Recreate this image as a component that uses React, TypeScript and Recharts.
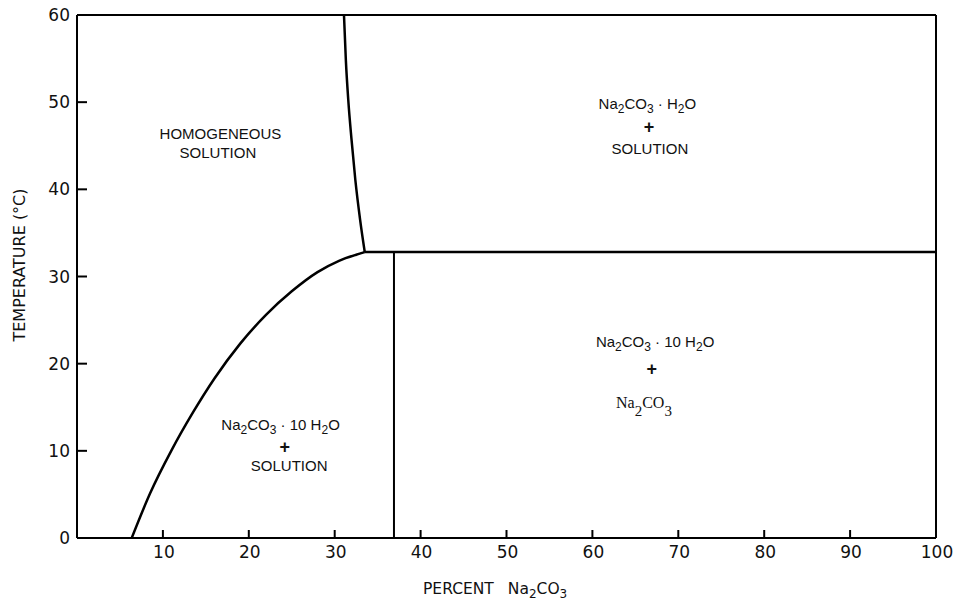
import React from 'react';
import { ComposedChart, Line, Scatter, XAxis, YAxis, ReferenceLine, Label } from 'recharts';

// Axis ticks
const xTicks = [10, 20, 30, 40, 50, 60, 70, 80, 90, 100];
const yTicks = [0, 10, 20, 30, 40, 50, 60];

// Decahydrate solubility curve (percent Na2CO3, temperature °C)
const liquidusX = [6.37, 8.5, 11.0, 13.5, 16.0, 19.0, 22.0, 25.0, 28.0, 30.5, 32.5, 33.5];
const liquidusT = [0, 5.1, 10.05, 14.4, 18.3, 22.3, 25.6, 28.3, 30.5, 31.8, 32.5, 32.8];

// Monohydrate solubility curve
const monoX = [31.08, 31.3, 31.58, 31.96, 32.4, 32.96, 33.5];
const monoT = [60, 54.8, 50.25, 45.7, 41.1, 36.5, 32.8];

// Transition line (horizontal)
const transX = [33.5, 100];
const transT = [32.8, 32.8];

// Decahydrate composition line (vertical)
const decaX = [36.9, 36.9];
const decaT = [0, 32.8];

// Region labels (one entry per text line)
const labelX = [16.7, 16.4, 66.4, 66.6, 66.7, 67.3, 66.9, 66.0, 23.7, 24.2, 24.7];
const labelT = [45.8, 43.6, 49.2, 46.5, 44.1, 21.9, 18.7, 14.9, 12.4, 9.75, 7.7];
const labelText = [
  'HOMOGENEOUS',
  'SOLUTION',
  'Na_2CO_3 · H_2O',
  '+',
  'SOLUTION',
  'Na_2CO_3 · 10 H_2O',
  '+',
  'Na_2CO_3',
  'Na_2CO_3 · 10 H_2O',
  '+',
  'SOLUTION',
];
const labelSerif = [false, false, false, false, false, false, false, true, false, false, false];

const zip = (xs: number[], ts: number[]) => xs.map((x, i) => ({ x, t: ts[i] }));

const liquidusData = zip(liquidusX, liquidusT);
const monoData = zip(monoX, monoT);
const transData = zip(transX, transT);
const decaData = zip(decaX, decaT);
const labelData = labelX.map((x, i) => ({ x, t: labelT[i], text: labelText[i], serif: labelSerif[i] }));

const SANS = '"DejaVu Sans", "Liberation Sans", sans-serif';
const LSANS = '"Liberation Sans", Arial, sans-serif';
const SERIF = '"Liberation Serif", "Times New Roman", serif';

function rich(text: string, subSize: number, shift: number) {
  const parts = text.split(/_(\d)/);
  const out: React.ReactNode[] = [];
  let inSub = false;
  parts.forEach((p, i) => {
    const isSub = i % 2 === 1;
    if (p === '') return;
    if (isSub) {
      out.push(
        <tspan key={i} dy={inSub ? 0 : shift} fontSize={subSize}>
          {p}
        </tspan>
      );
      inSub = true;
    } else {
      out.push(
        <tspan key={i} dy={inSub ? -shift : 0}>
          {p}
        </tspan>
      );
      inSub = false;
    }
  });
  return out;
}

const LabelShape = (props: any) => {
  const { cx, cy, payload } = props;
  if (cx == null || cy == null) return null;
  if (payload.serif) {
    return (
      <text x={cx} y={cy} textAnchor="middle" fontFamily={SERIF} fontSize={16} fill="#111">
        {rich(payload.text, 15, 8)}
      </text>
    );
  }
  if (payload.text === '+') {
    return (
      <text x={cx} y={cy} textAnchor="middle" fontFamily={LSANS} fontSize={18} fontWeight="bold" fill="#111">
        +
      </text>
    );
  }
  return (
    <text x={cx} y={cy} textAnchor="middle" fontFamily={LSANS} fontSize={15} fill="#111" style={{ whiteSpace: 'pre' }}>
      {rich(payload.text, 12, 4)}
    </text>
  );
};

const XTick = (props: any) => {
  const { x, y, payload } = props;
  return (
    <g>
      <line x1={x} y1={y} x2={x} y2={y - 8} stroke="#000" strokeWidth={2} />
      <text x={x + 1} y={y + 20} textAnchor="middle" fontFamily={SANS} fontSize={17} fill="#111">
        {payload.value}
      </text>
    </g>
  );
};

const YTick = (props: any) => {
  const { x, y, payload } = props;
  return (
    <g>
      {payload.value !== 0 && payload.value !== 60 && (
        <line x1={x} y1={y} x2={x + 10} y2={y} stroke="#000" strokeWidth={2} />
      )}
      <text x={x - 7} y={y} textAnchor="end" dominantBaseline="central" fontFamily={SANS} fontSize={17} fill="#111">
        {payload.value}
      </text>
    </g>
  );
};

export default function App() {
  return (
    <div style={{ width: 959, height: 603, background: '#fff' }}>
      <style>{'body{margin:0;background:#fff}'}</style>
      <ComposedChart width={959} height={603} margin={{ top: 15, right: 23, bottom: 0, left: 17 }}>
        <XAxis
          type="number"
          dataKey="x"
          domain={[0, 100]}
          ticks={xTicks}
          interval={0}
          allowDataOverflow
          tickSize={0}
          tickMargin={0}
          tickLine={false}
          tick={<XTick />}
          axisLine={{ stroke: '#000', strokeWidth: 2 }}
          height={65}
        >
          <Label
            content={() => (
              <text x={423} y={594} fontFamily={SANS} fontSize={15.5} fill="#111">
                <tspan>PERCENT</tspan>
                <tspan dx={14}>Na</tspan>
                <tspan dy={4} fontSize={12}>2</tspan>
                <tspan dy={-4}>CO</tspan>
                <tspan dy={4} fontSize={12}>3</tspan>
              </text>
            )}
          />
        </XAxis>
        <YAxis
          type="number"
          dataKey="t"
          domain={[0, 60]}
          ticks={yTicks}
          interval={0}
          allowDataOverflow
          tickSize={0}
          tickMargin={0}
          tickLine={false}
          tick={<YTick />}
          axisLine={{ stroke: '#000', strokeWidth: 2 }}
          width={60}
        >
          <Label
            content={() => (
              <text
                x={19}
                y={265}
                transform="rotate(-90 19 265)"
                textAnchor="middle"
                dominantBaseline="central"
                fontFamily={SANS}
                fontSize={16}
                fill="#111"
              >
                TEMPERATURE (°C)
              </text>
            )}
          />
        </YAxis>
        <ReferenceLine y={60} stroke="#000" strokeWidth={2} />
        <ReferenceLine x={100} stroke="#000" strokeWidth={2} />
        <Line data={liquidusData} dataKey="t" type="monotone" stroke="#000" strokeWidth={2.5} dot={false} activeDot={false} isAnimationActive={false} />
        <Line data={monoData} dataKey="t" type="monotone" stroke="#000" strokeWidth={2.5} dot={false} activeDot={false} isAnimationActive={false} />
        <Line data={transData} dataKey="t" type="linear" stroke="#000" strokeWidth={2.5} dot={false} activeDot={false} isAnimationActive={false} />
        <Line data={decaData} dataKey="t" type="linear" stroke="#000" strokeWidth={2} dot={false} activeDot={false} isAnimationActive={false} />
        <Scatter data={labelData} dataKey="t" shape={<LabelShape />} isAnimationActive={false} />
      </ComposedChart>
    </div>
  );
}
